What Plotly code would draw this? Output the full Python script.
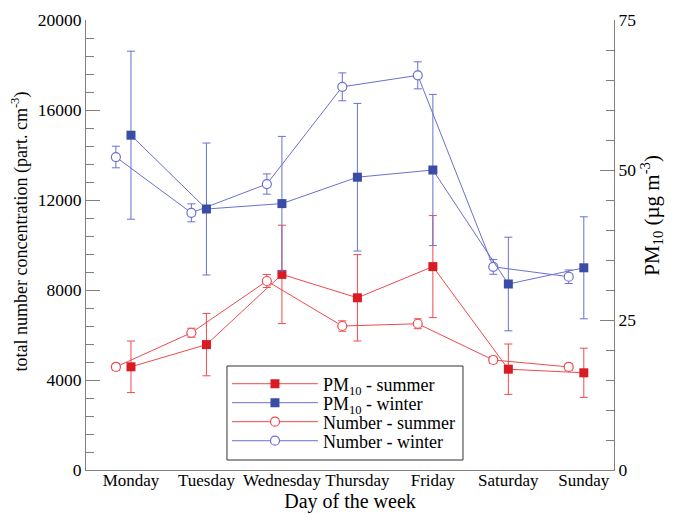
import plotly.graph_objects as go

days = ["Monday", "Tuesday", "Wednesday", "Thursday", "Friday", "Saturday", "Sunday"]

num_winter = [13910, 11430, 12710, 17030, 17540, 9030, 8590]
num_winter_err = [480, 400, 450, 620, 600, 330, 300]
num_summer = [4580, 6100, 8400, 6400, 6500, 4890, 4580]
num_summer_err = [150, 200, 290, 230, 220, 150, 150]

pm_winter = [55.8, 43.5, 44.4, 48.8, 50.0, 31.0, 33.7]
pm_winter_err = [14.0, 11.0, 11.2, 12.3, 12.6, 7.8, 8.5]
pm_summer = [17.2, 20.9, 32.6, 28.7, 33.9, 16.8, 16.2]
pm_summer_err = [4.3, 5.2, 8.2, 7.2, 8.5, 4.2, 4.1]

RED_L = "#ee4a50"
RED_M = "#d91c24"
BLUE_L = "#6a70cc"
BLUE_M = "#3a4da6"
AX = "#808080"
FONT = "Liberation Serif"

xs = list(range(len(days)))
xn = [x - 0.2 for x in xs]

fig = go.Figure()

fig.add_trace(go.Scatter(
    x=xs, y=pm_summer, yaxis="y2", mode="lines+markers",
    name="PM<sub>10</sub> - summer", legend="legend",
    line=dict(color=RED_L, width=1),
    marker=dict(symbol="square", size=9, color=RED_M),
    error_y=dict(type="data", array=pm_summer_err, color=RED_L, thickness=1, width=4),
))
fig.add_trace(go.Scatter(
    x=xs, y=pm_winter, yaxis="y2", mode="lines+markers",
    name="PM<sub>10</sub> - winter", legend="legend2",
    line=dict(color=BLUE_L, width=1),
    marker=dict(symbol="square", size=9, color=BLUE_M),
    error_y=dict(type="data", array=pm_winter_err, color=BLUE_L, thickness=1, width=4),
))
fig.add_trace(go.Scatter(
    x=xn, y=num_summer, mode="lines+markers",
    name="Number - summer", legend="legend3",
    line=dict(color=RED_L, width=1),
    marker=dict(symbol="circle", size=9, color="white", line=dict(color=RED_L, width=1.2)),
    error_y=dict(type="data", array=num_summer_err, color=RED_L, thickness=1, width=4),
))
fig.add_trace(go.Scatter(
    x=xn, y=num_winter, mode="lines+markers",
    name="Number - winter", legend="legend4",
    line=dict(color=BLUE_L, width=1),
    marker=dict(symbol="circle", size=9, color="white", line=dict(color=BLUE_L, width=1.2)),
    error_y=dict(type="data", array=num_winter_err, color=BLUE_L, thickness=1, width=4),
))

def leg(yc):
    return dict(
        x=0.267, y=yc, xanchor="left", yanchor="middle",
        borderwidth=0, bgcolor="rgba(0,0,0,0)",
        font=dict(family=FONT, size=18), itemwidth=86,
    )

fig.update_layout(
    width=675, height=514,
    margin=dict(l=86, r=61, t=20, b=44),
    paper_bgcolor="white", plot_bgcolor="white",
    font=dict(family=FONT, size=17, color="black"),
    showlegend=True,
    legend=leg(0.1911),
    legend2=leg(0.1489),
    legend3=leg(0.1067),
    legend4=leg(0.0644),
    shapes=[dict(type="rect", xref="paper", yref="paper",
                 x0=0.267, x1=0.714, y0=0.0222, y1=0.2311,
                 line=dict(color="#333333", width=1), layer="above")],
    xaxis=dict(
        range=[-0.596, 6.4], tickmode="array", tickvals=xs, ticktext=days,
        showgrid=False, zeroline=False, showline=True, linecolor=AX, linewidth=1,
        ticks="", tickfont=dict(size=17), automargin=False, ticklabelstandoff=-5,
        title=dict(text="Day of the week", font=dict(size=20), standoff=2),
    ),
    yaxis=dict(
        range=[0, 20000], tickvals=[0, 4000, 8000, 12000, 16000, 20000], tickformat="d",
        showgrid=False, zeroline=False, showline=True, linecolor=AX, linewidth=1,
        ticks="inside", ticklen=14, tickcolor=AX, tickfont=dict(size=17.5), automargin=False,
        minor=dict(dtick=800, ticks="inside", ticklen=8, tickcolor=AX),
    ),
    yaxis2=dict(
        range=[0, 75], tickvals=[0, 25, 50, 75], overlaying="y", side="right",
        showgrid=False, zeroline=False, showline=True, linecolor=AX, linewidth=1,
        ticks="inside", ticklen=14, tickcolor=AX, tickfont=dict(size=17.5), automargin=False,
        minor=dict(dtick=5, ticks="inside", ticklen=8, tickcolor=AX),
    ),
    annotations=[
        dict(text="total number concentration (part. cm<sup>-3</sup>)", textangle=-90,
             xref="paper", yref="paper", x=-0.125, y=0.53, xanchor="center", yanchor="middle",
             showarrow=False, font=dict(family=FONT, size=18)),
        dict(text="PM<sub>10</sub> (µg m<sup>-3</sup>)", textangle=-90,
             xref="paper", yref="paper", x=1.072, y=0.565, xanchor="center", yanchor="middle",
             showarrow=False, font=dict(family=FONT, size=21)),
    ],
)

fig.write_html("out.html")
